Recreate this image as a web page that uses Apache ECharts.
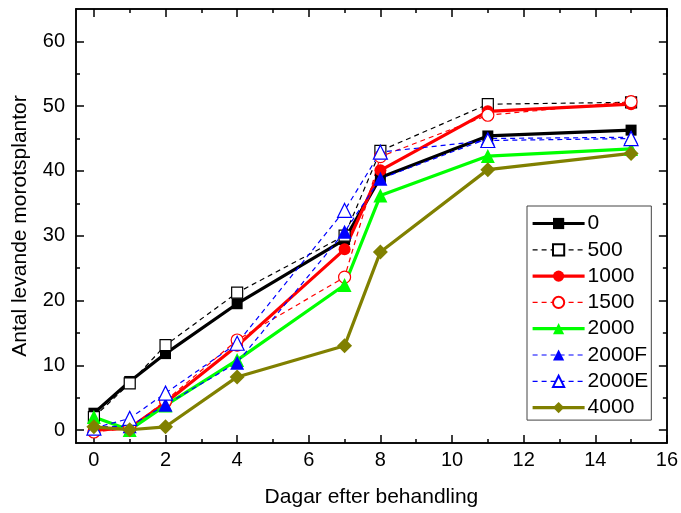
<!DOCTYPE html>
<html>
<head>
<meta charset="utf-8">
<script src="https://cdn.jsdelivr.net/npm/echarts@6/dist/echarts.min.js"></script>
<style>html,body{margin:0;padding:0;background:#fff}#c{width:681px;height:513px}</style>
</head>
<body>
<div id="c"></div>
<script>
var days = [0, 1, 2, 4, 7, 8, 11, 15];
var names = ['0', '500', '1000', '1500', '2000', '2000F', '2000E', '4000'];
var s0     = [2.6, 7.5, 11.8, 19.5, 29.4, 39.0, 45.4, 46.3];
var s500   = [2.0, 7.2, 13.1, 21.2, 30.0, 43.1, 50.3, 50.6];
var s1000  = [0.0, 0.3, 4.2, 13.0, 27.9, 40.1, 49.2, 50.3];
var s1500  = [-0.3, 0.3, 4.5, 13.9, 23.6, 42.2, 48.6, 50.7];
var s2000  = [2.0, 0.0, 3.8, 10.8, 22.4, 36.2, 42.3, 43.4];
var s2000F = [0.5, 0.6, 3.9, 10.4, 30.6, 38.8, 45.0, 45.2];
var s2000E = [0.3, 1.8, 5.7, 13.4, 33.9, 42.9, 44.7, 45.0];
var s4000  = [0.5, 0.05, 0.5, 8.2, 13.0, 27.5, 40.2, 42.7];
var xMajor = [0, 2, 4, 6, 8, 10, 12, 14, 16];
var xMinor = [1, 3, 5, 7, 9, 11, 13, 15];
var yMajor = [0, 10, 20, 30, 40, 50, 60];
var yMinor = [5, 15, 25, 35, 45, 55];

function pairs(v) { return days.map(function (d, i) { return [d, v[i]]; }); }

var FONT = 'Liberation Sans, Arial, sans-serif';
var lineAxis = { show: true, onZero: false, lineStyle: { color: '#000', width: 1.5 } };

function xAx(pos, ticks, len, labels) {
  return {
    type: 'value', min: -0.5, max: 16, position: pos,
    axisLine: lineAxis,
    axisTick: { show: true, inside: true, length: len, customValues: ticks, lineStyle: { color: '#000', width: 1.5 } },
    axisLabel: labels ? { show: true, customValues: xMajor, color: '#000', fontSize: 20, fontFamily: FONT, margin: 7 } : { show: false },
    splitLine: { show: false }
  };
}
function yAx(pos, ticks, len, labels) {
  return {
    type: 'value', min: -2, max: 65, position: pos,
    axisLine: lineAxis,
    axisTick: { show: true, inside: true, length: len, customValues: ticks, lineStyle: { color: '#000', width: 1.5 } },
    axisLabel: labels ? { show: true, customValues: yMajor, color: '#000', fontSize: 20, fontFamily: FONT, margin: 11 } : { show: false },
    splitLine: { show: false }
  };
}

var xAxes = [xAx('bottom', xMajor, 8, true), xAx('bottom', xMinor, 4, false), xAx('top', xMajor, 8, false), xAx('top', xMinor, 4, false)];
xAxes[0].name = 'Dagar efter behandling';
xAxes[0].nameLocation = 'middle';
xAxes[0].nameGap = 44;
xAxes[0].nameTextStyle = { color: '#000', fontSize: 21, fontFamily: FONT };
var yAxes = [yAx('left', yMajor, 8, true), yAx('left', yMinor, 4, false), yAx('right', yMajor, 8, false), yAx('right', yMinor, 4, false)];
yAxes[0].name = 'Antal levande morotsplantor';
yAxes[0].nameLocation = 'middle';
yAxes[0].nameGap = 45;
yAxes[0].nameTextStyle = { color: '#000', fontSize: 21, fontFamily: FONT };

function ser(name, vals, color, dashed, symbol, size, open) {
  return {
    name: name, type: 'line', data: pairs(vals), xAxisIndex: 0, yAxisIndex: 0,
    symbol: symbol, symbolSize: size, showAllSymbol: true,
    lineStyle: { color: color, width: dashed ? 1.2 : 3.2, type: dashed ? [5, 4] : 'solid' },
    itemStyle: open ? { color: '#fff', borderColor: color, borderWidth: 1.2 } : { color: color, borderWidth: 0 },
    emphasis: { disabled: true },
    animation: false
  };
}

var series = [
  ser(names[0], s0, '#000000', false, 'rect', 11, false),
  ser(names[1], s500, '#000000', true, 'rect', 11, true),
  ser(names[2], s1000, '#ff0000', false, 'circle', 12, false),
  ser(names[3], s1500, '#ff0000', true, 'circle', 12, true),
  ser(names[4], s2000, '#00ff00', false, 'triangle', 14, false),
  ser(names[5], s2000F, '#0000ff', true, 'triangle', 14, false),
  ser(names[6], s2000E, '#0000ff', true, 'triangle', 14, true),
  ser(names[7], s4000, '#808000', false, 'diamond', 15, false)
];

var chart = echarts.init(document.getElementById('c'), null, { renderer: 'canvas' });
chart.setOption({
  backgroundColor: '#fff',
  animation: false,
  textStyle: { fontFamily: FONT },
  grid: { left: 76, right: 13, top: 9, bottom: 70, containLabel: false },
  xAxis: xAxes,
  yAxis: yAxes,
  legend: {
    orient: 'vertical', left: 527, top: 206,
    padding: [7, 3, 2, 4],
    itemWidth: 52, itemHeight: 14, itemGap: 5.3,
    borderColor: '#444', borderWidth: 1,
    lineStyle: { width: 'inherit' },
    textStyle: { color: '#000', fontSize: 21, fontFamily: FONT, lineHeight: 20, padding: [0, 0, 0, -2] },
    data: names
  },
  series: series
});
</script>
</body>
</html>
